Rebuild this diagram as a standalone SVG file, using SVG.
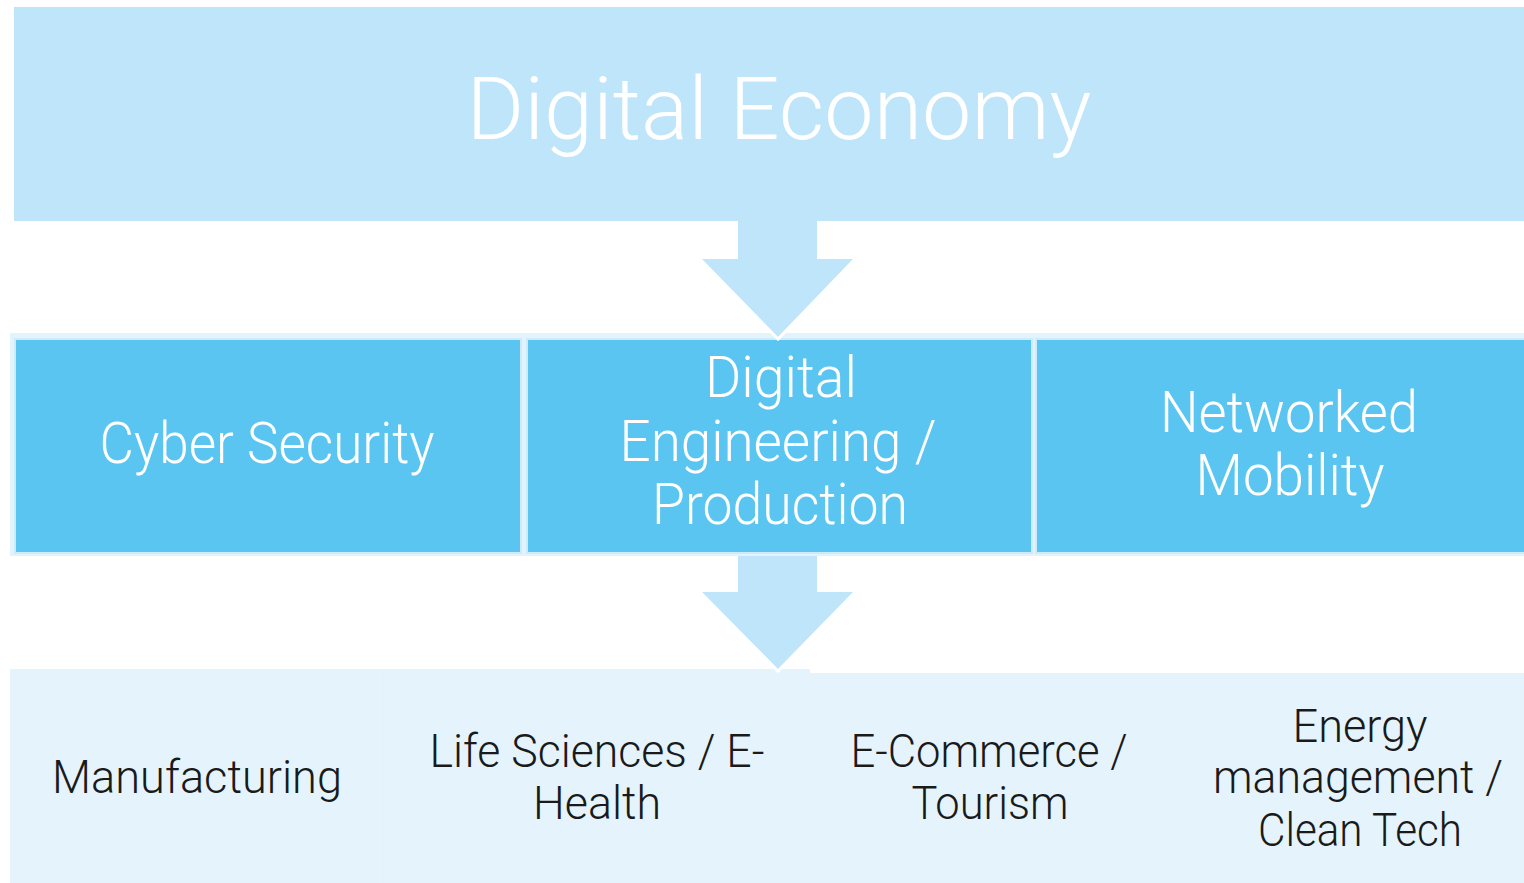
<svg xmlns="http://www.w3.org/2000/svg" width="1524" height="883" viewBox="0 0 1524 883">
<style>
.top{fill:#BEE5FA}
.mid{fill:#5BC5F2;stroke:#CDEBFA;stroke-width:2}
.bot{fill:#E5F4FC}
.arrow{fill:#BEE5FA;stroke:none}
.edge{fill:none;stroke:#FFFFFF;stroke-width:3;stroke-linejoin:miter}
.wt{font-family:Roboto,"Liberation Sans",sans-serif;font-weight:300;fill:#FFFFFF;text-anchor:middle}
.dk{font-family:Roboto,"Liberation Sans",sans-serif;font-weight:300;fill:#1A1A1A;text-anchor:middle;font-size:46px}
</style>
<rect width="1524" height="883" fill="#FFFFFF"/>
<g id="digital-economy">
<rect class="top" x="14" y="7" width="1510" height="214"/>
<text class="wt" x="779" y="139" font-size="88" textLength="625" lengthAdjust="spacingAndGlyphs">Digital Economy</text>
</g>
<g id="middle-frame">
<rect x="10" y="333" width="1514" height="223" fill="#E3F3FC"/>
</g>
<g id="cyber-security">
<rect class="mid" x="15" y="339" width="506" height="214"/>
<text class="wt" x="267" y="463" font-size="58" textLength="335" lengthAdjust="spacingAndGlyphs">Cyber Security</text>
</g>
<g id="digital-engineering">
<rect class="mid" x="527" y="339" width="505" height="214"/>
<text class="wt" x="781" y="397" font-size="58" textLength="152" lengthAdjust="spacingAndGlyphs">Digital</text>
<text class="wt" x="778" y="461" font-size="58" textLength="317" lengthAdjust="spacingAndGlyphs">Engineering /</text>
<text class="wt" x="780" y="524" font-size="58" textLength="256" lengthAdjust="spacingAndGlyphs">Production</text>
</g>
<g id="networked-mobility">
<rect class="mid" x="1036" y="339" width="490" height="214"/>
<text class="wt" x="1289" y="432" font-size="58" textLength="258" lengthAdjust="spacingAndGlyphs">Networked</text>
<text class="wt" x="1290" y="495" font-size="58" textLength="189" lengthAdjust="spacingAndGlyphs">Mobility</text>
</g>
<g id="bottom-row">
<rect class="bot" x="10" y="669" width="800" height="214"/>
<rect class="bot" x="808" y="673" width="716" height="210"/>
<rect x="383" y="669" width="1" height="214" fill="#E2F1FA"/>
</g>
<g id="manufacturing">
<text class="dk" x="197" y="793" textLength="290" lengthAdjust="spacingAndGlyphs">Manufacturing</text>
</g>
<g id="life-sciences">
<text class="dk" x="597" y="767" textLength="335" lengthAdjust="spacingAndGlyphs">Life Sciences / E-</text>
<text class="dk" x="597" y="819" textLength="128" lengthAdjust="spacingAndGlyphs">Health</text>
</g>
<g id="e-commerce">
<text class="dk" x="989" y="767" textLength="277" lengthAdjust="spacingAndGlyphs">E-Commerce /</text>
<text class="dk" x="990" y="819" textLength="157" lengthAdjust="spacingAndGlyphs">Tourism</text>
</g>
<g id="energy">
<text class="dk" x="1360" y="742" textLength="135" lengthAdjust="spacingAndGlyphs">Energy</text>
<text class="dk" x="1358" y="793" textLength="290" lengthAdjust="spacingAndGlyphs">management /</text>
<text class="dk" x="1360" y="846" textLength="204" lengthAdjust="spacingAndGlyphs">Clean Tech</text>
</g>
<g id="connectors">
<polygon class="arrow" points="738,220 817,220 817,259 855,259 778,338 700,259 738,259"/>
<polyline class="edge" points="699,258 778,339 856,258"/>
<polygon class="arrow" points="738,556 817,556 817,592 855,592 778,670 700,592 738,592"/>
<polyline class="edge" points="699,591 778,671 856,591"/>
</g>
</svg>
